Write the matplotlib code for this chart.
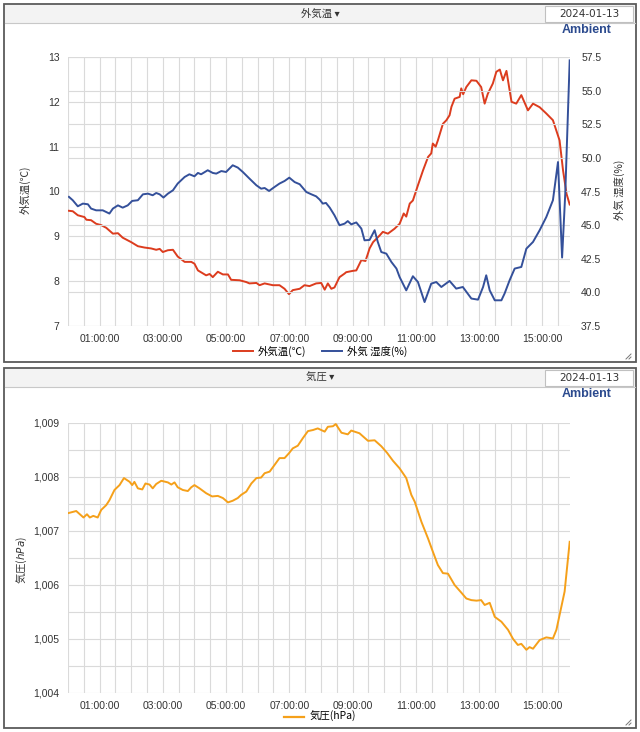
import matplotlib
matplotlib.use("Agg")
import matplotlib.pyplot as plt
from matplotlib.patches import Rectangle
from matplotlib.lines import Line2D
from matplotlib.ticker import FixedLocator, MultipleLocator, FuncFormatter

# fonts: latin first, CJK fallback
plt.rcParams['font.family'] = ['Liberation Sans', 'Noto Sans CJK JP', 'DejaVu Sans']
CJK = ['Noto Sans CJK JP', 'DejaVu Sans']

# ---- data (hours since 00:00) ----
temp_t = [0.03, 0.15, 0.31, 0.52, 0.58, 0.73, 0.89, 1.05, 1.21, 1.42, 1.58, 1.73, 2.0, 2.21,
          2.42, 2.63, 2.79, 2.9, 3.0, 3.16, 3.32, 3.47, 3.69, 3.9, 4.0, 4.11, 4.37, 4.48, 4.58,
          4.74, 4.9, 5.06, 5.16, 5.43, 5.64, 5.74, 5.96, 6.06, 6.22, 6.48, 6.69, 6.85, 6.99,
          7.11, 7.33, 7.48, 7.64, 7.85, 8.01, 8.12, 8.22, 8.33, 8.43, 8.54, 8.59, 8.75, 8.8,
          9.01, 9.12, 9.28, 9.41, 9.49, 9.54, 9.65, 9.86, 9.96, 10.12, 10.33, 10.49, 10.62,
          10.7, 10.81, 10.91, 11.07, 11.23, 11.39, 11.49, 11.54, 11.63, 11.7, 11.86, 11.97,
          12.07, 12.13, 12.23, 12.39, 12.44, 12.5, 12.6, 12.76, 12.92, 13.07, 13.18, 13.28,
          13.44, 13.55, 13.66, 13.76, 13.87, 14.03, 14.18, 14.34, 14.55, 14.71, 14.92, 15.13,
          15.34, 15.55, 15.66, 15.77, 15.87]
temp_v = [9.57, 9.56, 9.47, 9.43, 9.37, 9.36, 9.28, 9.25, 9.19, 9.06, 9.07, 8.97, 8.87, 8.78,
          8.75, 8.73, 8.70, 8.72, 8.65, 8.69, 8.70, 8.55, 8.43, 8.43, 8.39, 8.24, 8.13, 8.16, 8.09,
          8.21, 8.15, 8.15, 8.03, 8.02, 7.98, 7.95, 7.96, 7.91, 7.95, 7.91, 7.91, 7.83, 7.71,
          7.80, 7.83, 7.91, 7.89, 7.95, 7.96, 7.81, 7.95, 7.83, 7.86, 8.02, 8.09, 8.17, 8.20,
          8.23, 8.24, 8.47, 8.45, 8.62, 8.73, 8.87, 9.02, 9.10, 9.06, 9.17, 9.28, 9.51,
          9.44, 9.73, 9.80, 10.14, 10.47, 10.77, 10.85, 11.07, 11.0, 11.14, 11.51, 11.59,
          11.70, 11.89, 12.07, 12.11, 12.30, 12.17, 12.33, 12.48, 12.47, 12.33, 11.96, 12.18,
          12.41, 12.67, 12.72, 12.48, 12.69, 12.0, 11.96, 12.15, 11.81, 11.96, 11.88, 11.74,
          11.59, 11.14, 10.47, 9.95, 9.71]

hum_t = [0.03, 0.15, 0.31, 0.47, 0.63, 0.73, 0.89, 1.1, 1.31, 1.42, 1.58, 1.73, 1.89, 2.03,
         2.21, 2.37, 2.53, 2.68, 2.79, 2.9, 3.02, 3.16, 3.32, 3.47, 3.69, 3.84, 4.0, 4.11, 4.21,
         4.42, 4.58, 4.69, 4.85, 5.0, 5.21, 5.37, 5.53, 5.74, 5.96, 6.11, 6.22, 6.36, 6.53,
         6.69, 6.85, 7.0, 7.17, 7.33, 7.54, 7.7, 7.85, 7.96, 8.06, 8.16, 8.28, 8.43, 8.59,
         8.75, 8.85, 8.96, 9.12, 9.28, 9.38, 9.54, 9.7, 9.8, 9.91, 10.07, 10.23, 10.39, 10.49,
         10.7, 10.91, 11.07, 11.28, 11.49, 11.65, 11.81, 12.07, 12.28, 12.49, 12.76, 12.97,
         13.13, 13.23, 13.34, 13.5, 13.71, 13.81, 13.97, 14.13, 14.34, 14.5, 14.71, 14.92,
         15.13, 15.34, 15.5, 15.63, 15.73, 15.87]
hum_v = [47.1, 46.85, 46.4, 46.6, 46.55, 46.23, 46.1, 46.1, 45.86, 46.23, 46.47, 46.3, 46.47, 46.8,
         46.85, 47.29, 47.34, 47.22, 47.39, 47.29, 47.05, 47.34, 47.59, 48.09, 48.58, 48.78, 48.63, 48.88, 48.78,
         49.08, 48.88, 48.83, 49.02, 48.95, 49.45, 49.28, 48.95, 48.46, 47.96, 47.71, 47.76, 47.54, 47.83,
         48.09, 48.28, 48.53, 48.2, 48.04, 47.46, 47.29, 47.14, 46.9, 46.6, 46.65, 46.3, 45.73, 44.99,
         45.11, 45.3, 45.06, 45.2, 44.74, 43.87, 43.9, 44.62, 43.75, 43.0, 42.88, 42.26, 41.77, 41.14,
         40.15, 41.2, 40.77, 39.28, 40.65, 40.77, 40.4, 40.85, 40.28, 40.4, 39.54, 39.46,
         40.4, 41.27, 40.15, 39.41, 39.41, 39.91, 40.9, 41.77, 41.89, 43.25, 43.75, 44.62,
         45.6, 46.85, 49.69, 42.59, 47.34, 57.25]

pres_t = [0.0, 0.26, 0.49, 0.6, 0.69, 0.8, 0.94, 1.05, 1.21, 1.31, 1.47, 1.63, 1.77, 1.95, 2.03,
          2.1, 2.21, 2.35, 2.45, 2.58, 2.68, 2.79, 2.95, 3.16, 3.27, 3.37, 3.47, 3.63, 3.79, 3.9,
          4.0, 4.16, 4.37, 4.56, 4.74, 4.9, 5.06, 5.21, 5.37, 5.48, 5.64, 5.8, 5.96, 6.11, 6.22,
          6.38, 6.53, 6.69, 6.85, 6.99, 7.11, 7.27, 7.43, 7.59, 7.75, 7.9, 8.12, 8.22, 8.38, 8.47,
          8.65, 8.85, 8.96, 9.22, 9.49, 9.7, 9.91, 10.09, 10.28, 10.49, 10.7, 10.86, 10.97, 11.18,
          11.39, 11.54, 11.7, 11.86, 12.02, 12.23, 12.44, 12.6, 12.76, 12.92, 13.07, 13.18, 13.34,
          13.5, 13.71, 13.92, 14.08, 14.23, 14.34, 14.5, 14.6, 14.71, 14.92, 15.13, 15.34, 15.45,
          15.71, 15.87]
pres_v = [1007.33, 1007.37, 1007.25, 1007.31, 1007.25, 1007.28, 1007.25, 1007.39, 1007.48, 1007.57,
          1007.76, 1007.85, 1007.98, 1007.91, 1007.85, 1007.91, 1007.79, 1007.77, 1007.88, 1007.86,
          1007.79, 1007.87, 1007.93, 1007.9, 1007.86, 1007.9, 1007.81, 1007.76, 1007.74, 1007.81,
          1007.85, 1007.79, 1007.70, 1007.64, 1007.65, 1007.61, 1007.53, 1007.56, 1007.61, 1007.67,
          1007.73, 1007.88, 1007.98, 1007.99, 1008.07, 1008.1, 1008.22, 1008.35, 1008.35, 1008.44,
          1008.53, 1008.58, 1008.72, 1008.85, 1008.87, 1008.9, 1008.84, 1008.93, 1008.94, 1008.98,
          1008.82, 1008.79, 1008.86, 1008.81, 1008.67, 1008.68, 1008.57, 1008.45, 1008.30, 1008.16,
          1007.98, 1007.67, 1007.54, 1007.17, 1006.86, 1006.62, 1006.37, 1006.22, 1006.21, 1006.0,
          1005.86, 1005.75, 1005.72, 1005.71, 1005.72, 1005.63, 1005.67, 1005.41, 1005.32, 1005.17,
          1005.0, 1004.89, 1004.91, 1004.8, 1004.85, 1004.82, 1004.98, 1005.03, 1005.01, 1005.17,
          1005.88, 1006.8]

hour_ticks = [1, 3, 5, 7, 9, 11, 13, 15]
hour_labels = ["01:00:00", "03:00:00", "05:00:00", "07:00:00",
               "09:00:00", "11:00:00", "13:00:00", "15:00:00"]
date_str = "2024-01-13"

RED = '#dc3c1e'
BLUE = '#34509a'
ORANGE = '#f5a01a'
GRID = '#dadada'
TXT = '#333333'

W, H = 640, 732
fig = plt.figure(figsize=(W / 100, H / 100), dpi=100)


def fx(px):
    return px / W


def fy(py):
    return 1 - py / H


def panel(top, bottom, title):
    # outer frame (kept behind the axes)
    fig.patches.append(Rectangle((fx(4), fy(bottom)), fx(632), (bottom - top) / H,
                                 transform=fig.transFigure, fc='white', ec='#5a5a5a', lw=1.3,
                                 zorder=-10))
    # header bar
    fig.patches.append(Rectangle((fx(5), fy(top + 19)), fx(630), 18 / H,
                                 transform=fig.transFigure, fc='#f3f3f3', ec='none', zorder=-9))
    fig.lines.append(Line2D([fx(5), fx(635)], [fy(top + 19)] * 2, transform=fig.transFigure,
                            color='#c8c8c8', lw=0.8, zorder=-8))
    fig.text(fx(320), fy(top + 10), title + " \u25BE", ha='center', va='center',
             fontsize=7.5, color='#333333', family=CJK)
    # date box
    fig.patches.append(Rectangle((fx(545), fy(top + 18)), fx(88), 16 / H,
                                 transform=fig.transFigure, fc='white', ec='#c0c0c0', lw=0.8,
                                 zorder=-8))
    fig.text(fx(589), fy(top + 10), date_str, ha='center', va='center', fontsize=7.5,
             color='#333333', family='DejaVu Sans')
    fig.text(fx(612), fy(top + 26), "Ambient", ha='right', va='center', fontsize=9,
             fontweight='bold', color='#2b4a8e')
    # resize grip
    for d in (2, 5):
        fig.lines.append(Line2D([fx(631 - d), fx(631)], [fy(bottom - 3), fy(bottom - 3 - d)],
                                transform=fig.transFigure, color='#777777', lw=0.7))


def style_axes(ax):
    for s in ax.spines.values():
        s.set_visible(False)
    ax.patch.set_visible(False)
    ax.set_xlim(0, 15.88)
    ax.xaxis.set_major_locator(FixedLocator(hour_ticks))
    ax.set_xticklabels(hour_labels)
    ax.xaxis.set_minor_locator(MultipleLocator(0.5))
    ax.grid(axis='x', which='both', color=GRID, lw=0.8)
    ax.grid(axis='y', color=GRID, lw=0.8)
    ax.tick_params(which='both', length=0, labelsize=7.5, colors=TXT, pad=6)
    ax.set_axisbelow(True)


# ---- top panel: temperature / humidity ----
panel(4, 362, "外気温")
ax1 = fig.add_axes([fx(68), fy(326), fx(502), 269 / H])
style_axes(ax1)
ax1.set_ylim(7, 13)
ax1.yaxis.set_major_locator(MultipleLocator(1))
ax1.plot(temp_t, temp_v, color=RED, lw=1.4)

ax1b = ax1.twinx()
for s in ax1b.spines.values():
    s.set_visible(False)
ax1b.set_ylim(37.5, 57.5)
ax1b.yaxis.set_major_locator(MultipleLocator(2.5))
ax1b.yaxis.set_major_formatter(FuncFormatter(lambda v, p: f"{v:.1f}"))
ax1b.grid(axis='y', color=GRID, lw=0.8)
ax1b.set_axisbelow(True)
ax1b.tick_params(length=0, labelsize=7.5, colors=TXT, pad=8)
ax1b.plot(hum_t, hum_v, color=BLUE, lw=1.4)

fig.text(fx(25), fy(190), "外気温(℃)", rotation=90, ha='center', va='center',
         fontsize=7.5, color=TXT, family=CJK)
fig.text(fx(619), fy(190), "外気 湿度(%)", rotation=90, ha='center', va='center',
         fontsize=7.5, color=TXT, family=CJK)

fig.legend(handles=[Line2D([], [], color=RED, lw=1.4, label="外気温(℃)"),
                    Line2D([], [], color=BLUE, lw=1.4, label="外気 湿度(%)")],
           loc='center', bbox_to_anchor=(fx(320), fy(351)), ncol=2, frameon=False,
           handlelength=1.9, columnspacing=1.5, handletextpad=0.5,
           prop={'family': CJK, 'size': 7.5})

# ---- bottom panel: pressure ----
panel(368, 728, "気圧")
ax2 = fig.add_axes([fx(68), fy(693), fx(502), 270 / H])
style_axes(ax2)
ax2.set_ylim(1004, 1009)
ax2.yaxis.set_major_locator(MultipleLocator(1))
ax2.yaxis.set_minor_locator(MultipleLocator(0.5))
ax2.grid(axis='y', which='minor', color=GRID, lw=0.8)
ax2.yaxis.set_major_formatter(FuncFormatter(lambda v, p: f"{v:,.0f}"))
ax2.plot(pres_t, pres_v, color=ORANGE, lw=1.4)

fig.text(fx(22), fy(560), "気圧($\\mathit{hPa}$)", rotation=90, ha='center', va='center',
         fontsize=7.5, color=TXT, family=CJK)

fig.legend(handles=[Line2D([], [], color=ORANGE, lw=1.6, label="気圧(hPa)")],
           loc='center', bbox_to_anchor=(fx(320), fy(717)), frameon=False,
           handlelength=1.9, handletextpad=0.5, prop={'family': CJK, 'size': 7.5})

fig.savefig("out.png", dpi=100)
